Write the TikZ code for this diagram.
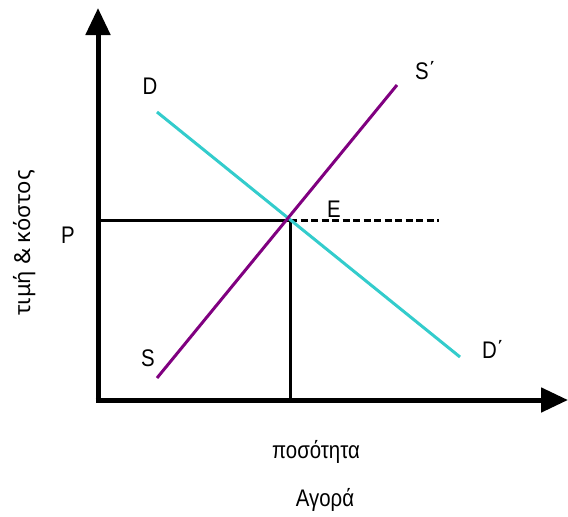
\documentclass[tikz,border=0pt]{standalone}
\usepackage{fontspec}
\setmainfont{Liberation Sans}
\newfontfamily\nfont[FakeStretch=0.85]{Liberation Sans}
\newfontfamily\vfont{Noto Sans}
\usetikzlibrary{arrows.meta}
\definecolor{dcyan}{RGB}{51,204,204}
\definecolor{spurple}{RGB}{128,0,128}
\begin{document}
\begin{tikzpicture}[x=1pt,y=-1pt,
  axis/.style={line width=5pt,-{Triangle[length=27pt,width=24pt]}},
  guide/.style={line width=3pt},
  curve/.style={line width=3pt},
  lbl/.style={font=\nfont\fontsize{24}{28}\selectfont,inner sep=0pt,anchor=base}]
\useasboundingbox (0,0) rectangle (568,517);
\coordinate (O) at (98,400);
\coordinate (ytop) at (98,8);
\coordinate (xend) at (568,400);
\coordinate (E) at (290,220);
\coordinate (Py) at (98,220);
\coordinate (Ex) at (290,400);
\coordinate (dashend) at (439,220);
\coordinate (D1) at (157,112);
\coordinate (D2) at (460,357);
\coordinate (S1) at (157,378);
\coordinate (S2) at (397,85);
\draw[guide] (Py) -- (E);
\draw[guide] (E) -- (Ex);
\draw[guide,dash pattern=on 7pt off 3.5pt] (E) -- (dashend);
\draw[curve,dcyan] (D1) -- (D2);
\draw[curve,spurple] (S1) -- (S2);
\draw[axis] (O) -- (ytop);
\draw[axis] ([xshift=-2.5pt]O) -- (xend);
\node[lbl] (lD) at (150,94) {D};
\node[lbl,anchor=base west] (lS2) at (415,79) {S΄};
\node[lbl] (lP) at (68,243) {P};
\node[lbl] (lE) at (334,217) {E};
\node[lbl] (lS) at (148,366) {S};
\node[lbl,anchor=base west] (lD2) at (482,358) {D΄};
\node[lbl] (lq) at (316,458) {ποσότητα};
\node[lbl] (lm) at (325,506) {Αγορά};
\node[inner sep=0pt,rotate=90,font=\vfont\fontsize{22}{26}\selectfont] (ly) at (25,243) {τιμή \& κόστος};
\end{tikzpicture}
\end{document}
